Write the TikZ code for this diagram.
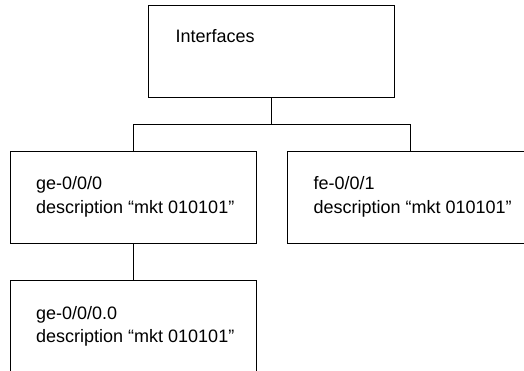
\documentclass[tikz,border=0pt]{standalone}
\usepackage{fontspec}
\setmainfont{Liberation Sans}
\usetikzlibrary{positioning}

\tikzset{
    ifbox/.style={draw, line width=1.1pt, minimum width=245.5pt, minimum height=92pt,
        inner sep=0pt, anchor=north west},
    iftext/.style={anchor=north west, inner sep=0pt, align=left,
        font=\fontsize{18}{23.5}\selectfont},
    link/.style={line width=1.1pt}
}

\begin{document}
\begin{tikzpicture}[x=1pt,y=1pt]
        \useasboundingbox (0,0) rectangle (524,-370);
        % boxes
        \node[ifbox] (ifc) at (148.3,-4.7) {};
        \node[ifbox] (ge0) at (10,-151.3) {};
        \node[ifbox] (fe1) at (287.3,-151.3) {};
        \node[ifbox] (ge00) at (10,-280) {};
        % texts
        \node[iftext] (ifcText) at ([shift={(27pt,-24.5pt)}]ifc.north west) {Interfaces};
        \node[iftext] (ge0Text) at ([shift={(26pt,-25pt)}]ge0.north west)
            {ge-0/0/0\\description “mkt 010101”};
        \node[iftext] (fe1Text) at ([shift={(26pt,-25pt)}]fe1.north west)
            {fe-0/0/1\\description “mkt 010101”};
        \node[iftext] (ge00Text) at ([shift={(26pt,-26pt)}]ge00.north west)
            {ge-0/0/0.0\\description “mkt 010101”};
        % connectors
        \coordinate (hub) at ([yshift=-26.7pt]ifc.south);
        \draw[link] (ifc.south) -- (hub);
        \draw[link] (ge0.north) |- (hub) -| (fe1.north);
        \draw[link] (ge0.south) -- (ge00.north);
\end{tikzpicture}
\end{document}
